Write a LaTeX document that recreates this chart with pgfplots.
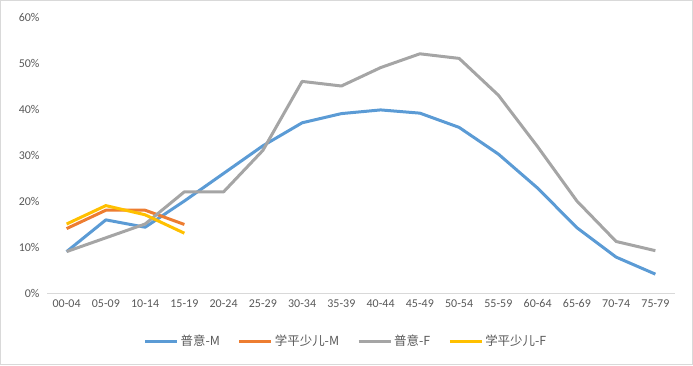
\documentclass[border=0pt]{standalone}
\usepackage{fontspec}
\setmainfont{Carlito}
\newfontfamily\cjk{Noto Sans CJK SC}
\usepackage{pgfplots}
\pgfplotsset{compat=1.18}
\definecolor{cblue}{HTML}{5B9BD5}
\definecolor{corange}{HTML}{ED7D31}
\definecolor{cgray}{HTML}{A5A5A5}
\definecolor{cgold}{HTML}{FFC000}
\definecolor{ctext}{HTML}{595959}
\definecolor{caxis}{HTML}{D9D9D9}
\begin{document}
\begin{tikzpicture}[x=1bp,y=1bp]
\draw[caxis, line width=1bp] (0.5,0.5) rectangle (692.5,364.5);
\begin{axis}[
  at={(47bp,72bp)}, anchor=south west,
  scale only axis, width=628bp, height=276bp,
  xmin=-0.5, xmax=15.5, ymin=0, ymax=60,
  xtick={0,...,15},
  xticklabels={00-04,05-09,10-14,15-19,20-24,25-29,30-34,35-39,40-44,45-49,50-54,55-59,60-64,65-69,70-74,75-79},
  ytick={0,10,...,60},
  yticklabel={\pgfmathprintnumber{\tick}\%},
  /pgf/number format/assume math mode=true,
  ticklabel style={font=\fontsize{12}{14}\selectfont, text=ctext},
  major tick length=0pt,
  axis line style={draw=none},
  axis x line*=bottom,
  axis y line*=left,
  y axis line style={draw=none},
  x axis line style={draw=caxis, line width=1bp},
  yticklabel style={xshift=-4bp},
  xticklabel style={yshift=-3bp},
  clip=false,
  legend columns=4,
  legend style={at={(0.476,-0.174)}, anchor=center, draw=none, fill=none,
    font=\cjk\fontsize{12.5}{14}\selectfont, text=ctext,
    /tikz/every even column/.append style={column sep=16bp}},
  legend cell align=left,
  legend image code/.code={\draw[#1, line width=3bp] (0bp,0bp) -- (32bp,0bp);},
  every axis plot/.append style={line width=3bp, line join=round},
]
\addplot[cblue] coordinates {(0,9) (1,15.9) (2,14.3) (3,20) (4,26) (5,32) (6,37) (7,39) (8,39.8) (9,39.1) (10,36) (11,30.2) (12,22.8) (13,14.2) (14,7.8) (15,4.1)};
\addlegendentry{普意-M}
\addplot[corange] coordinates {(0,14) (1,18) (2,18) (3,14.9)};
\addlegendentry{学平少儿-M}
\addplot[cgray] coordinates {(0,9) (1,12) (2,15) (3,22) (4,22) (5,31) (6,46) (7,45) (8,49) (9,52) (10,51) (11,43) (12,31.8) (13,20) (14,11.2) (15,9.2)};
\addlegendentry{普意-F}
\addplot[cgold] coordinates {(0,15) (1,19) (2,17) (3,13)};
\addlegendentry{学平少儿-F}
\end{axis}
\end{tikzpicture}
\end{document}
